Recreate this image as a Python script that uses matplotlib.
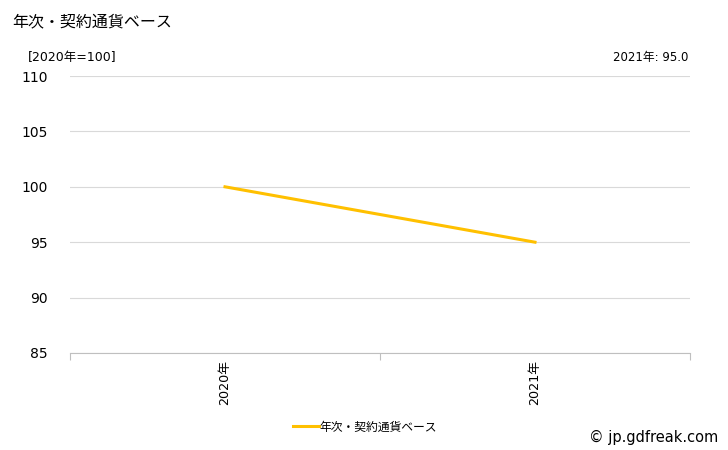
import matplotlib
matplotlib.use("Agg")
import matplotlib.pyplot as plt

plt.rcParams['font.family'] = ['DejaVu Sans', 'Noto Sans CJK JP']

categories = ["2020年", "2021年"]
values = [100.0, 95.0]
yticks = [85, 90, 95, 100, 105, 110]
series_name = "年次・契約通貨ベース"

fig = plt.figure(figsize=(7.28, 4.5), dpi=100)
ax = fig.add_axes([70 / 728, 1 - 353 / 450, 620 / 728, 277 / 450])

x = [i + 0.5 for i in range(len(categories))]
line, = ax.plot(x, values, color="#FFC000", lw=2.2, label=series_name)

ax.set_xlim(0, len(categories))
ax.set_ylim(85, 110)
ax.set_yticks(yticks)
ax.set_yticklabels([str(v) for v in yticks], fontsize=10)
ax.yaxis.grid(True, color="#d9d9d9", lw=0.8)
ax.set_axisbelow(True)

# category labels at band centres, tick marks at band edges
ax.set_xticks(range(len(categories) + 1))
ax.set_xticklabels([])
ax.tick_params(axis="x", length=5, color="#bfbfbf", width=0.8)
ax.tick_params(axis="y", length=0, pad=16)
for xi, lab in zip(x, categories):
    ax.text(xi, -0.025, lab, transform=ax.get_xaxis_transform(), rotation=90,
            ha="center", va="top", fontsize=9.2)

for s in ["left", "right", "top"]:
    ax.spines[s].set_visible(False)
ax.spines["bottom"].set_color("#bfbfbf")
ax.spines["bottom"].set_linewidth(0.8)

fig.text(12 / 728, 1 - 22 / 450, "年次・契約通貨ベース", fontsize=11.5, va="center", ha="left")
fig.text(28 / 728, 1 - 57 / 450, "[2020年=100]", fontsize=9, va="center", ha="left")
fig.text(688 / 728, 1 - 57 / 450, "2021年: 95.0", fontsize=8.5, va="center", ha="right")
fig.text(718 / 728, 1 - 437 / 450, "© jp.gdfreak.com", fontsize=10.5, va="center", ha="right")

fig.legend(handles=[line], loc="center", bbox_to_anchor=(365 / 728, 1 - 427 / 450),
           frameon=False, fontsize=8.5, handlelength=2.2, handletextpad=0.1)

fig.savefig("out.png", dpi=100)
